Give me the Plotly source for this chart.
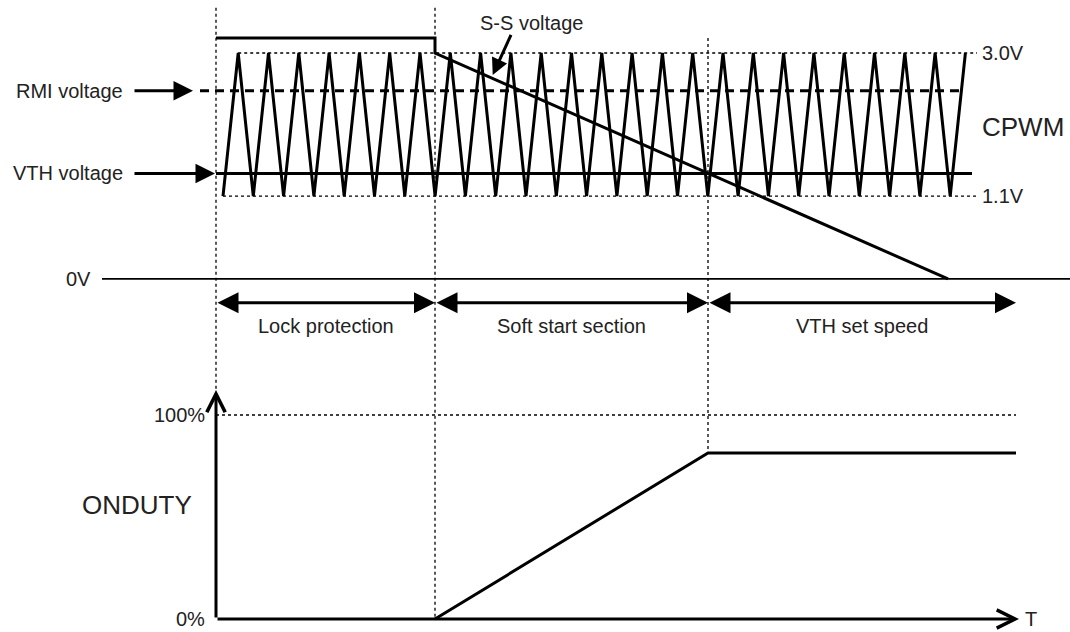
import plotly.graph_objects as go

# ---------------- data (time in arbitrary units, voltage in V, duty in %) ----------------
t_lock = 0.0      # start of lock protection
t_soft = 21.9     # start of soft start section
t_vth = 49.2      # start of VTH set speed
t_end = 80.0      # end of time axis

# CPWM triangle carrier: trough / peak instants
cpwm_trough_t = [0.70, 3.73, 6.76, 9.79, 12.82, 15.85, 18.88, 21.91, 24.94, 27.97,
                 31.00, 34.03, 37.06, 40.09, 43.12, 46.15, 49.18, 52.21, 55.24, 58.27,
                 61.30, 64.33, 67.36, 70.39, 73.42]
cpwm_peak_t = [2.22, 5.25, 8.28, 11.31, 14.34, 17.37, 20.40, 23.43, 26.46, 29.49,
               32.52, 35.55, 38.58, 41.61, 44.64, 47.67, 50.70, 53.73, 56.76, 59.79,
               62.82, 65.85, 68.88, 71.91, 74.94]
cpwm_low = 1.1
cpwm_high = 3.0

rmi_v = 2.5
vth_v = 1.4

ss_t = [0.0, 21.9, 21.9, 73.2]
ss_v = [3.2, 3.2, 3.0, 0.0]

duty_t = [21.9, 49.2, 80.0]
duty_pct = [0.0, 81.4, 81.4]

section_names = ["Lock protection", "Soft start section", "VTH set speed"]
section_edges = [t_lock, t_soft, t_vth, t_end]

volt_labels = ["3.0V", "1.1V"]
volt_label_vals = [3.0, 1.1]
duty_labels = ["100%", "0%"]
duty_label_vals = [100, 0]

# ---------------- layout constants ----------------
X_RANGE = [-21.6, 85.4]
V_RANGE = [-4.689, 3.704]
D_RANGE = [-6.37, 303.43]
FONT = "Liberation Sans, Arial, Helvetica, sans-serif"
TXT = "#222222"
LW = 3


def duty_to_v(d):
    frac = (d - D_RANGE[0]) / (D_RANGE[1] - D_RANGE[0])
    return V_RANGE[0] + frac * (V_RANGE[1] - V_RANGE[0])


fig = go.Figure()


def line(x, y, yaxis="y", width=LW, dash="solid"):
    fig.add_trace(go.Scatter(x=x, y=y, mode="lines", yaxis=yaxis,
                             line=dict(color="black", width=width, dash=dash),
                             hoverinfo="skip", showlegend=False))


DOT = "3px,3px"
DW = 1.3

# dotted level lines of CPWM
line([cpwm_peak_t[0], 76.1], [cpwm_high, cpwm_high], width=DW, dash=DOT)
line([cpwm_trough_t[0], 76.1], [cpwm_low, cpwm_low], width=DW, dash=DOT)

# vertical guide lines
line([t_lock, t_lock], [3.6, duty_to_v(112.3)], width=DW, dash=DOT)
line([t_soft, t_soft], [3.6, duty_to_v(0)], width=DW, dash=DOT)
line([t_vth, t_vth], [3.2, duty_to_v(duty_pct[1])], width=DW, dash=DOT)

# 100% dotted level
line([t_lock, t_end], [100, 100], yaxis="y2", width=DW, dash=DOT)

# RMI dashed
line([-1.6, 74.7], [rmi_v, rmi_v], width=LW, dash="9px,6px")
# VTH solid
line([t_lock, 75.6], [vth_v, vth_v])

# CPWM triangle
pts = sorted([(t, cpwm_low) for t in cpwm_trough_t] + [(t, cpwm_high) for t in cpwm_peak_t])
line([p[0] for p in pts], [p[1] for p in pts])

# S-S voltage
line(ss_t, ss_v)

# 0V line
line([-11.4, 85.4], [0, 0], width=1.6)

# ON duty
line(duty_t, duty_pct, yaxis="y2")

ann = []


def arrow(x0, y0, x1, y1, yref="y", head=2, size=1.3, width=LW, side="end"):
    ann.append(dict(x=x1, y=y1, ax=x0, ay=y0, xref="x", yref=yref, axref="x", ayref=yref,
                    text="", showarrow=True, arrowhead=head, arrowsize=size, arrowwidth=width,
                    startarrowhead=head, startarrowsize=size, arrowcolor="black",
                    arrowside=side, standoff=0, startstandoff=0))


def text(x, y, s, yref="y", xanchor="center", size=20):
    ann.append(dict(x=x, y=y, xref="x", yref=yref, text=s, showarrow=False,
                    xanchor=xanchor, yanchor="middle",
                    font=dict(family=FONT, size=size, color=TXT)))


# left labels with arrows
text(-9.1, rmi_v, "RMI voltage", xanchor="right")
text(-9.1, vth_v, "VTH voltage", xanchor="right")
arrow(-8.3, rmi_v, -2.3, rmi_v)
arrow(-8.3, vth_v, -0.1, vth_v)

# right labels
for s, v in zip(volt_labels, volt_label_vals):
    text(76.4, v, s, xanchor="left")
text(76.4, 2.02, "CPWM", xanchor="left", size=26)

# S-S voltage label and arrow
text(31.5, 3.399, "S-S voltage")
arrow(29.57, 3.262, 27.67, 2.708, size=1.1)

# 0V label
text(-12.3, 0, "0V", xanchor="right")

# section arrows and labels
for i, name in enumerate(section_names):
    a, b = section_edges[i], section_edges[i + 1]
    arrow(a, -0.316, b, -0.316, side="end+start", size=1.4)
    text((a + b) / 2, -0.625, name)

# duty axes
arrow(t_lock, 0, t_lock, 112.3, yref="y2", head=5, size=1.2)
arrow(t_lock, 0, 80.3, 0, yref="y2", head=5, size=1.2)
for s, d in zip(duty_labels, duty_label_vals):
    text(-0.9, d, s, yref="y2", xanchor="right")
text(-7.95, 55.9, "ONDUTY", yref="y2", size=26)
text(81.5, 0, "T", yref="y2")

fig.update_layout(
    width=1070, height=632,
    margin=dict(l=0, r=0, t=0, b=0),
    paper_bgcolor="white", plot_bgcolor="white",
    showlegend=False,
    xaxis=dict(range=X_RANGE, visible=False, fixedrange=True),
    yaxis=dict(range=V_RANGE, visible=False, fixedrange=True, domain=[0, 1]),
    yaxis2=dict(range=D_RANGE, visible=False, fixedrange=True, overlaying="y"),
    annotations=ann,
)

fig.write_html("out.html", config={"displayModeBar": False},
               post_script="document.body.style.margin='0';document.body.style.overflow='hidden';")
